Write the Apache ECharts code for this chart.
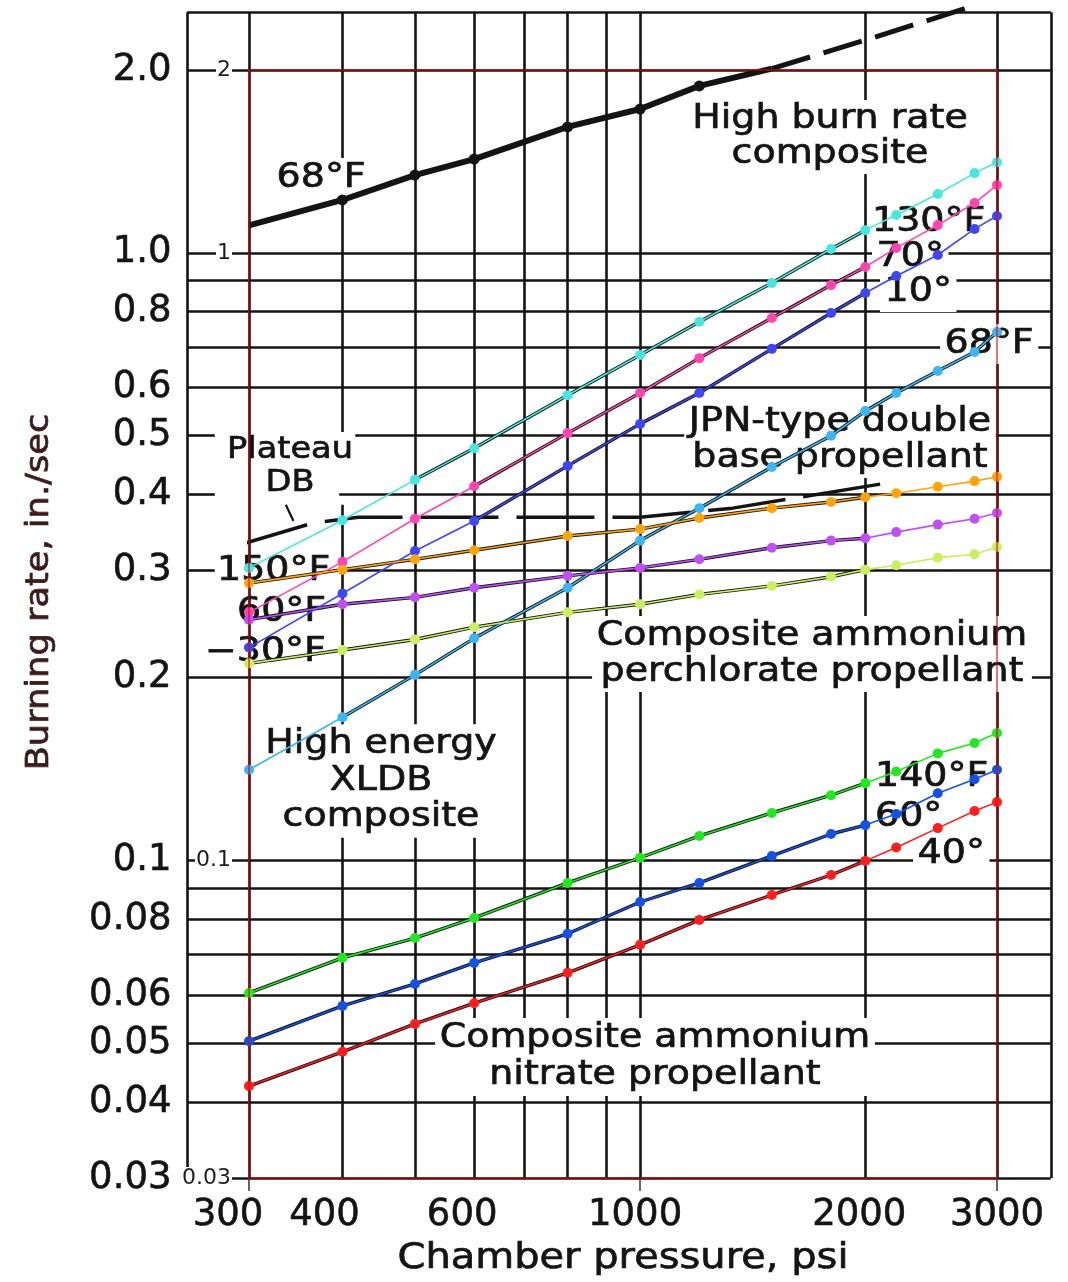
<!DOCTYPE html>
<html>
<head>
<meta charset="utf-8">
<script src="https://cdn.jsdelivr.net/npm/echarts@6/dist/echarts.min.js"></script>
<style>
  html, body { margin: 0; padding: 0; background: #ffffff; }
  #chart { width: 1068px; height: 1282px; }
</style>
</head>
<body>
<div id="chart"></div>
<script>
// Chamber pressure (psi) at which every burning-rate curve is sampled
const pressures = [300, 400, 500, 600, 800, 1000, 1200, 1500, 1800, 2000, 2200, 2500, 2800, 3000];

// High energy XLDB composite (in./sec)
const xldb130F = [0.303, 0.363, 0.423, 0.477, 0.583, 0.679, 0.770, 0.892, 1.015, 1.09, 1.154, 1.25, 1.353, 1.41];
const xldb70F  = [0.256, 0.310, 0.365, 0.413, 0.505, 0.588, 0.671, 0.781, 0.885, 0.948, 1.019, 1.111, 1.208, 1.293];
const xldb10F  = [0.224, 0.275, 0.323, 0.362, 0.446, 0.523, 0.588, 0.695, 0.796, 0.859, 0.916, 0.992, 1.095, 1.15];

// JPN-type double base propellant, 68°F
const jpn68F = [0.141, 0.172, 0.202, 0.232, 0.281, 0.336, 0.380, 0.444, 0.500, 0.549, 0.588, 0.639, 0.687, 0.741];

// Composite ammonium perchlorate propellant
const ap150F      = [0.286, 0.301, 0.313, 0.324, 0.342, 0.351, 0.366, 0.380, 0.389, 0.396, 0.402, 0.412, 0.421, 0.428];
const ap60F       = [0.249, 0.264, 0.271, 0.281, 0.294, 0.303, 0.313, 0.327, 0.336, 0.339, 0.347, 0.357, 0.365, 0.373];
const apMinus30F  = [0.211, 0.222, 0.231, 0.242, 0.256, 0.264, 0.274, 0.283, 0.293, 0.301, 0.306, 0.315, 0.319, 0.328];

// Composite ammonium nitrate propellant
const an140F = [0.0605, 0.0691, 0.0745, 0.0804, 0.0918, 0.101, 0.1097, 0.1197, 0.128, 0.134, 0.140, 0.150, 0.156, 0.162];
const an60F  = [0.0504, 0.0576, 0.0626, 0.0678, 0.0757, 0.0854, 0.0918, 0.1017, 0.1105, 0.1143, 0.1192, 0.129, 0.136, 0.141];
const an40F  = [0.0425, 0.0484, 0.0538, 0.0582, 0.0653, 0.0726, 0.0798, 0.0877, 0.0946, 0.0998, 0.105, 0.113, 0.1206, 0.1247];

// High burn rate composite, 68°F: solid part (dots from 400 to 1200 psi) and dashed extrapolation
const highBurnP    = [300, 400, 500, 600, 800, 1000, 1200, 1500];
const highBurnR    = [1.11, 1.222, 1.343, 1.427, 1.612, 1.725, 1.883, 2.01];
const highBurnExtP = [1500, 2000, 2736];
const highBurnExtR = [2.01, 2.24, 2.53];

// Plateau double-base curve and the leader from its "DB" label
const plateauP = [285, 365, 420, 1000, 1330, 2190];
const plateauR = [0.328, 0.359, 0.367, 0.367, 0.38, 0.42];
const plateauLeaderP = [336, 344];
const plateauLeaderR = [0.385, 0.362];

// JPN curve continued past the 3000 psi rule
const jpnExtP = [3000, 3513];
const jpnExtR = [0.741, 0.83];

// Ruled log-log chart paper
const pressureRules = [300, 400, 500, 600, 700, 800, 900, 1000, 2000, 3000];
const rateRules = [0.03, 0.04, 0.05, 0.06, 0.07, 0.08, 0.09, 0.1, 0.2, 0.3, 0.4, 0.5, 0.6, 0.7, 0.8, 0.9, 1, 2];
const paperPressure = [248, 3540];   // printed frame, left and right
const paperRateTop = 2.49;           // printed frame, top
// rules left open around the printed labels: [rate, from psi, to psi] and [psi, from rate, to rate]
const rateRuleGaps = [[0.5, 270, 416], [0.4, 270, 396], [0.3, 270, 389]];
const pressureRuleGaps = [[400, 0.385, 0.507]];

// Printed tick labels
const pressureLabels = [300, 400, 600, 1000, 2000, 3000];
const rateLabels = [2, 1, 0.8, 0.6, 0.5, 0.4, 0.3, 0.2, 0.1, 0.08, 0.06, 0.05, 0.04, 0.03];

const FONT = 'DejaVu Sans';
const INK = '#141414';
const pair = (ps, rs) => ps.map((p, i) => [p, rs[i]]);

// Paper rules as straight segments
const ruleSegs = [];
rateRules.forEach(r => {
  const gap = rateRuleGaps.find(g => g[0] === r);
  if (gap) {
    ruleSegs.push([[paperPressure[0], r], [gap[1], r]]);
    ruleSegs.push([[gap[2], r], [paperPressure[1], r]]);
  } else {
    ruleSegs.push([[paperPressure[0], r], [paperPressure[1], r]]);
  }
});
pressureRules.forEach(p => {
  const gap = pressureRuleGaps.find(g => g[0] === p);
  if (gap) {
    ruleSegs.push([[p, rateRules[0]], [p, gap[1]]]);
    ruleSegs.push([[p, gap[2]], [p, paperRateTop]]);
  } else {
    ruleSegs.push([[p, rateRules[0]], [p, paperRateTop]]);
  }
});
ruleSegs.push([[paperPressure[0], rateRules[0]], [paperPressure[0], paperRateTop]]);
ruleSegs.push([[paperPressure[1], rateRules[0]], [paperPressure[1], paperRateTop]]);
ruleSegs.push([[paperPressure[0], paperRateTop], [paperPressure[1], paperRateTop]]);

const curves = [
  { name: 'XLDB 130°F', rates: xldb130F,   color: '#47e6e1', inked: [2, 9] },
  { name: 'XLDB 70°F',  rates: xldb70F,    color: '#ff46b0', inked: [3, 9] },
  { name: 'XLDB 10°F',  rates: xldb10F,    color: '#3f47f5', inked: [3, 9] },
  { name: 'JPN 68°F',   rates: jpn68F,     color: '#3cb5f5', inked: [1, 13] },
  { name: 'AP 150°F',   rates: ap150F,     color: '#ffa50a', inked: [0, 9] },
  { name: 'AP 60°F',    rates: ap60F,      color: '#c050f5', inked: [0, 9] },
  { name: 'AP -30°F',   rates: apMinus30F, color: '#c8f060', inked: [0, 9] },
  { name: 'AN 140°F',   rates: an140F,     color: '#22e822', inked: [0, 9] },
  { name: 'AN 60°F',    rates: an60F,      color: '#1452e6', inked: [0, 9] },
  { name: 'AN 40°F',    rates: an40F,      color: '#ff1e1e', inked: [0, 9] }
];

const series = [];

// chart paper
series.push({
  type: 'lines', coordinateSystem: 'cartesian2d', polyline: false, clip: false, silent: true, z: 1,
  lineStyle: { color: INK, width: 2.6, opacity: 1 },
  data: ruleSegs.map(c => ({ coords: c }))
});

// printed tick labels
const rateText = v => (v >= 1 ? v.toFixed(1) : String(v));
const labelCarrier = { color: 'rgba(0,0,0,0)', opacity: 1 };
const printedLabel = { fontFamily: FONT, fontSize: 37, color: INK, opacity: 1,
                       textBorderColor: INK, textBorderWidth: 0.6 };
series.push({
  type: 'scatter', silent: true, clip: false, z: 2, symbolSize: 1,
  itemStyle: labelCarrier,
  label: Object.assign({ show: true, position: 'left', distance: 77,
                         formatter: p => rateText(p.value[1]) }, printedLabel),
  data: rateLabels.map(r => [pressures[0], r])
});
const pressureNudge = { 300: -21, 400: -18, 600: -12, 1000: -5, 2000: -6 };
series.push({
  type: 'scatter', silent: true, clip: false, z: 2, symbolSize: 1,
  itemStyle: labelCarrier,
  label: Object.assign({ show: true, position: 'bottom', distance: 18,
                         formatter: p => String(p.value[0]) }, printedLabel),
  data: pressureLabels.map(p => ({ value: [p, rateRules[0]], label: { offset: [pressureNudge[p] || 0, 0] } }))
});

// inked curves on the paper
curves.forEach(c => {
  series.push({
    type: 'line', silent: true, clip: false, z: 3, symbol: 'none',
    lineStyle: { color: INK, width: 3.4 },
    data: pair(pressures, c.rates).slice(c.inked[0], c.inked[1] + 1)
  });
});
series.push({
  type: 'line', silent: true, clip: false, z: 3, symbol: 'none',
  lineStyle: { color: INK, width: 3.4 }, data: pair(jpnExtP, jpnExtR)
});
series.push({
  type: 'line', silent: true, clip: false, z: 3, symbol: 'circle', symbolSize: 11,
  itemStyle: { color: INK }, lineStyle: { color: INK, width: 6 },
  data: pair(highBurnP, highBurnR).map((v, i, all) =>
    (i === 0 || i === all.length - 1 ? { value: v, symbol: 'none' } : v))
});
series.push({
  type: 'line', silent: true, clip: false, z: 3, symbol: 'none',
  lineStyle: { color: INK, width: 5, type: [40, 14], dashOffset: 0 }, data: pair(highBurnExtP, highBurnExtR)
});
series.push({
  type: 'line', silent: true, clip: false, z: 3, symbol: 'none',
  lineStyle: { color: INK, width: 3.5, type: [78, 18] }, data: pair(plateauP, plateauR)
});
series.push({
  type: 'line', silent: true, clip: false, z: 3, symbol: 'none',
  lineStyle: { color: INK, width: 2.2 }, data: pair(plateauLeaderP, plateauLeaderR)
});

curves.forEach(c => {
  series.push({
    type: 'line', name: c.name, clip: false, z: 4,
    symbol: 'circle', symbolSize: 10, showSymbol: true,
    lineStyle: { color: c.color, width: 1.6 }, itemStyle: { color: c.color },
    data: pair(pressures, c.rates)
  });
});

// annotation text
function note(text, x, y, align, opts) {
  opts = opts || {};
  const size = opts.size || 33;
  const fill = opts.fill || INK;
  const style = {
    text: text, fill: fill, stroke: fill, lineWidth: 0.7, font: size + 'px "' + FONT + '"',
    align: align, textAlign: align, verticalAlign: 'middle', textVerticalAlign: 'middle',
    lineHeight: opts.lineHeight || 36
  };
  if (opts.bg) { style.backgroundColor = '#ffffff'; style.padding = [2, 4]; }
  return { type: 'text', x: x, y: y, z: 2, scaleX: opts.scaleX || 1.15, rotation: opts.rotation || 0,
           silent: true, style: style };
}

const graphics = [
  note('68°F', 272, 178, 'left', { bg: true }),
  note('High burn rate\ncomposite', 830, 137, 'center', { bg: true, lineHeight: 35 }),
  note('130°F', 872, 222, 'left'),
  note('70°', 872, 257, 'left', { bg: true }),
  note('10°', 880, 292, 'left', { bg: true }),
  note('68°F', 940, 344, 'left', { bg: true }),
  note('JPN-type double\nbase propellant', 840, 440, 'center', { bg: true }),
  note('Plateau\nDB', 290, 467, 'center', { size: 30, scaleX: 1.12, lineHeight: 33 }),
  note('150°F', 217, 571, 'left'),
  note('60°F', 237, 612, 'left'),
  note('\u221230°F', 205, 652, 'left'),
  note('Composite ammonium\nperchlorate propellant', 812, 654, 'center', { bg: true }),
  note('High energy\nXLDB\ncomposite', 381, 781, 'center', { bg: true, lineHeight: 36.5 }),
  note('140°F', 875, 777, 'left'),
  note('60°', 875, 817, 'left'),
  note('40°', 913, 854, 'left', { bg: true }),
  note('Composite ammonium\nnitrate propellant', 655, 1057, 'center', { bg: true, lineHeight: 37 }),
  note('Chamber pressure, psi', 623, 1259, 'center', { size: 36, scaleX: 1.11 }),
  note('Burning rate, in./sec', 40, 592, 'center',
       { size: 32, scaleX: 1.1, rotation: Math.PI / 2, fill: '#3b1c1c' })
];

const frameRed = 'rgba(228,0,0,0.55)';
const option = {
  animation: false,
  backgroundColor: '#ffffff',
  textStyle: { fontFamily: FONT },
  grid: { left: 249, right: 71, top: 70, bottom: 104, containLabel: false },
  xAxis: [
    { type: 'log', logBase: 10, min: 300, max: 3000, position: 'bottom', z: 5,
      axisLine: { show: true, onZero: false, lineStyle: { color: frameRed, width: 2 } },
      axisTick: { show: true, length: 13, lineStyle: { color: '#333333', width: 1.5 } },
      axisLabel: { show: false }, splitLine: { show: false }, minorTick: { show: false } },
    { type: 'log', logBase: 10, min: 300, max: 3000, position: 'top', z: 5,
      axisLine: { show: true, onZero: false, lineStyle: { color: frameRed, width: 2 } },
      axisTick: { show: false }, axisLabel: { show: false }, splitLine: { show: false } }
  ],
  yAxis: [
    { type: 'log', logBase: 10, min: 0.03, max: 2, position: 'left', z: 5,
      axisLine: { show: true, onZero: false, lineStyle: { color: frameRed, width: 2 } },
      axisTick: { show: false },
      axisLabel: { show: true, margin: 17, fontFamily: FONT, fontSize: 22, color: '#1e1e1e',
                   backgroundColor: '#ffffff', padding: [0, 1], showMinLabel: true, showMaxLabel: true },
      splitLine: { show: false } },
    { type: 'log', logBase: 10, min: 0.03, max: 2, position: 'right', z: 5,
      axisLine: { show: true, onZero: false, lineStyle: { color: frameRed, width: 2 } },
      axisTick: { show: false }, axisLabel: { show: false }, splitLine: { show: false } }
  ],
  graphic: { elements: graphics },
  series: series
};

const chart = echarts.init(document.getElementById('chart'), null, { renderer: 'canvas' });
chart.setOption(option);
</script>
</body>
</html>
